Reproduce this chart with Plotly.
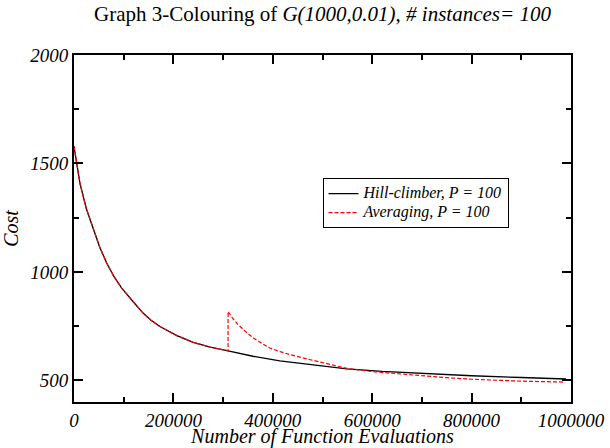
import plotly.graph_objects as go

# ---- data ----
hc_x = [0, 12000, 25000, 39000, 52000, 66000, 80000, 96000, 106000, 120000,
        139000, 155000, 173000, 190000, 207000, 240000, 274000, 310000, 360000,
        414000, 435000, 490000, 549000, 620000, 700000, 800000, 900000, 990000]
hc_y = [1579, 1408, 1290, 1193, 1112, 1040, 980, 925, 900, 860,
        810, 777, 748, 725, 706, 675, 653, 636, 611,
        590, 584, 568, 553, 541, 531, 521, 513, 506]

avg_x = [0, 12000, 25000, 39000, 52000, 66000, 80000, 96000, 106000, 120000,
         139000, 155000, 173000, 190000, 207000, 240000, 274000, 310000,
         310000, 318000, 330000, 345000, 361000, 378000, 394000, 415000, 435000,
         470000, 510000, 549000, 600000, 650000, 700000, 750000, 800000,
         850000, 900000, 985000]
avg_y = [1579, 1408, 1290, 1193, 1112, 1040, 980, 925, 900, 860,
         810, 777, 748, 725, 706, 675, 653, 636,
         817, 790, 757, 725, 695, 670, 649, 632, 618,
         598, 578, 555, 540, 530, 521, 512, 505,
         500, 496, 492]

series_names = ["Hill-climber, P = 100", "Averaging, P = 100"]
title_plain = "Graph 3-Colouring of "
title_italic1 = "G(1000,0.01)"
title_italic2 = "# instances= 100"
x_label = "Number of Function Evaluations"
y_label = "Cost"

FONT = "'Liberation Serif', 'Times New Roman', 'DejaVu Serif', serif"


def legend_label(s):
    return f'<span style="font-size:16px">{s}</span>'


fig = go.Figure()
fig.add_trace(go.Scatter(x=hc_x, y=hc_y, mode="lines", name=legend_label(series_names[0]),
                         line=dict(color="black", width=1.3)))
fig.add_trace(go.Scatter(x=avg_x, y=avg_y, mode="lines", name=legend_label(series_names[1]),
                         line=dict(color="#ff0000", width=1.2, dash="4px,2px")))

axis_common = dict(
    showline=True, linecolor="black", linewidth=2, mirror="ticks",
    ticks="inside", ticklen=9, tickwidth=1.5, tickcolor="black",
    showgrid=False, zeroline=False, automargin=True,
)

fig.update_layout(
    width=610, height=448,
    paper_bgcolor="white", plot_bgcolor="white",
    margin=dict(l=74, r=39, t=55, b=46, autoexpand=False),
    title=dict(
        text=f"{title_plain}<i>{title_italic1}</i>, <i>{title_italic2}</i>",
        x=0.5, xref="paper", xanchor="center",
        y=1 - 13.5 / 448, yref="container", yanchor="middle",
        font=dict(family=FONT, size=21, color="black"),
    ),
    xaxis=dict(
        range=[0, 1000000], tick0=0, dtick=200000, tickformat="d",
        minor=dict(dtick=100000, ticks="inside", ticklen=5, tickwidth=1.5, tickcolor="black"),
        tickfont=dict(family=FONT, size=19, color="black", style="italic"),
        title=dict(text=x_label, standoff=8,
                   font=dict(family=FONT, size=20, color="black", style="italic")),
        **axis_common,
    ),
    yaxis=dict(
        range=[400, 2000], tick0=0, dtick=500, tickformat="d",
        minor=dict(dtick=250, ticks="inside", ticklen=5, tickwidth=1.5, tickcolor="black"),
        tickfont=dict(family=FONT, size=19, color="black", style="italic"),
        title=dict(text=y_label, standoff=12,
                   font=dict(family=FONT, size=20, color="black", style="italic")),
        **axis_common,
    ),
    showlegend=True,
    legend=dict(
        x=0.5, y=0.645, xanchor="left", yanchor="top",
        bgcolor="white", bordercolor="black", borderwidth=1,
        font=dict(family=FONT, size=12, color="black", style="italic"),
        tracegroupgap=0,
    ),
)

fig.write_html("out.html",
               config={"displayModeBar": False},
               post_script="document.body.style.margin='0';document.body.style.overflow='hidden';")
